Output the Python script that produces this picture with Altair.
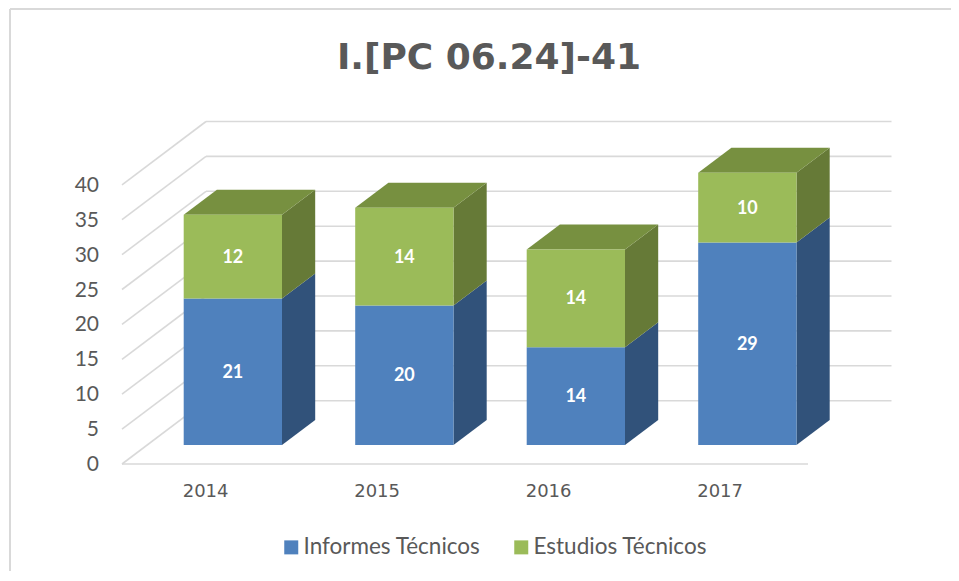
import altair as alt
import pandas as pd

years = ["2014", "2015", "2016", "2017"]
informes = [21, 20, 14, 29]
estudios = [12, 14, 14, 10]
y_ticks = [0, 5, 10, 15, 20, 25, 30, 35, 40]
series_names = ["Informes Técnicos", "Estudios Técnicos"]
title_text = "I.[PC 06.24]-41"

W, H = 943, 563
PX_Y = 6.98       # pixels per value unit
PX_X = 171.5      # pixels per category slot
X0, Y0 = 122, 464  # page position of the front-left floor corner

x_scale = alt.Scale(domain=[(8 - X0) / PX_X, (8 + W - X0) / PX_X], range=[0, W], nice=False, zero=False)
y_scale = alt.Scale(domain=[(Y0 - 8 - H) / PX_Y, (Y0 - 8) / PX_Y], range=[H, 0], nice=False, zero=False)

# depth of the 3-D projection, in scale units
WALL_DX, WALL_DY = 84 / PX_X, 63.3 / PX_Y
BAR_DX, BAR_DY = 33.2 / PX_X, 25 / PX_Y
BAR_OFF, BAR_LIFT = 61.7 / PX_X, 19 / PX_Y
BAR_W = 98.3 / PX_X


def X(f="x"):
    return alt.X(f + ":Q", scale=x_scale, axis=None)


def Y(f="y"):
    return alt.Y(f + ":Q", scale=y_scale, axis=None)


# gridlines
grid_rows = []
for v in y_ticks:
    grid_rows.append(dict(x=0, x2=WALL_DX, y=v, y2=v + WALL_DY))
    grid_rows.append(dict(x=WALL_DX, x2=4 + (891.5 - 808) / PX_X, y=v + WALL_DY, y2=v + WALL_DY))
grid_rows.append(dict(x=0, x2=4, y=0, y2=0))
grid = alt.Chart(pd.DataFrame(grid_rows)).mark_rule(color="#d9d9d9", strokeWidth=1.6).encode(
    x=X(), x2="x2:Q", y=Y(), y2="y2:Q")

# value-axis labels
tick_text = alt.Chart(pd.DataFrame(dict(
    x=[(99 - X0) / PX_X] * len(y_ticks),
    y=y_ticks,
    t=[str(v) for v in y_ticks],
))).mark_text(color="#595959", font="Lato", fontSize=21, align="right", baseline="middle", dy=1).encode(
    x=X(), y=Y(), text="t:N")

# chart border
border = alt.Chart(pd.DataFrame([
    dict(x=(10 - X0) / PX_X, x2=(8 + W - X0) / PX_X, y=(Y0 - 9) / PX_Y, y2=(Y0 - 9) / PX_Y),
    dict(x=(10 - X0) / PX_X, x2=(10 - X0) / PX_X, y=(Y0 - 9) / PX_Y, y2=(Y0 - 8 - H) / PX_Y),
])).mark_rule(color="#d9d9d9", strokeWidth=2).encode(x=X(), x2="x2:Q", y=Y(), y2="y2:Q")

front, side_b, side_g, top_g, labels = [], [], [], [], []
for i, yr in enumerate(years):
    left = i + BAR_OFF
    right = left + BAR_W
    base = BAR_LIFT
    mid = base + informes[i]
    tip = mid + estudios[i]
    front.append(dict(x=left, x2=right, y=base, y2=mid, s=series_names[0]))
    front.append(dict(x=left, x2=right, y=mid, y2=tip, s=series_names[1]))
    labels.append(dict(x=(left + right) / 2, y=(base + mid) / 2, t=str(informes[i])))
    labels.append(dict(x=(left + right) / 2, y=(mid + tip) / 2, t=str(estudios[i])))
    for frac in (0, 1):
        side_b.append(dict(k=yr, x=right + frac * BAR_DX, y=base + frac * BAR_DY, y2=mid + frac * BAR_DY))
        side_g.append(dict(k=yr, x=right + frac * BAR_DX, y=mid + frac * BAR_DY, y2=tip + frac * BAR_DY))
        top_g.append(dict(k=yr, x=left + frac * BAR_DX, x2=right + frac * BAR_DX, y=tip + frac * BAR_DY))


def side(rows, color):
    return alt.Chart(pd.DataFrame(rows)).mark_area(color=color, line=False).encode(
        x=X(), y=Y(), y2="y2:Q", detail="k:N")


top = alt.Chart(pd.DataFrame(top_g)).mark_area(color="#779040", orient="horizontal").encode(
    x=X(), x2="x2:Q", y=Y(), detail="k:N")

bars = alt.Chart(pd.DataFrame(front)).mark_rect().encode(
    x=X(), x2="x2:Q", y=Y(), y2="y2:Q",
    color=alt.Color("s:N", scale=alt.Scale(domain=series_names, range=["#4F81BD", "#9BBB59"]),
                    legend=alt.Legend(orient="none", legendX=272, legendY=528, direction="horizontal",
                                      title=None, symbolType="square", symbolSize=196, symbolStrokeWidth=0,
                                      symbolOpacity=1, labelFont="Lato", labelFontSize=22.5,
                                      labelColor="#595959", labelOffset=1, columnPadding=29,
                                      labelLimit=300)),
)

value_text = alt.Chart(pd.DataFrame(labels)).mark_text(
    color="white", font="Lato", fontWeight="bold", fontSize=18, dy=1).encode(x=X(), y=Y(), text="t:N")

year_text = alt.Chart(pd.DataFrame(dict(
    x=[i + (205.6 - X0) / PX_X for i in range(4)],
    y=[(Y0 - 497) / PX_Y] * 4,
    t=years,
))).mark_text(color="#595959", font="DejaVu Sans", fontSize=18, baseline="alphabetic").encode(
    x=X(), y=Y(), text="t:N")

chart = alt.layer(grid, border, side(side_b, "#31527A"), side(side_g, "#667A37"), top, bars, value_text, tick_text, year_text).properties(
    width=W, height=H, padding=0, autosize=alt.AutoSizeParams(type="none"),
    title=alt.TitleParams(title_text, font="DejaVu Sans", fontSize=36, fontWeight="bold", color="#595959",
                          anchor="middle", baseline="alphabetic", offset=-97, dx=9.5),
).configure_view(stroke=None)

chart.save("out.html", embed_options={"renderer": "svg", "actions": False})
